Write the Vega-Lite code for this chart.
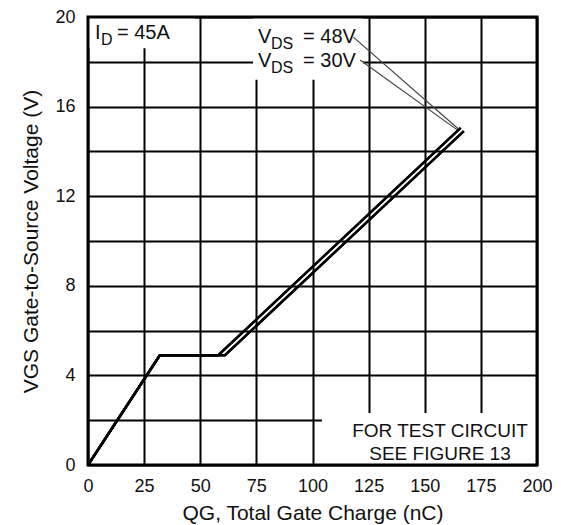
{
  "$schema": "https://vega.github.io/schema/vega-lite/v6.json",
  "width": 449,
  "height": 448,
  "autosize": "none",
  "padding": {"left": 88, "top": 17, "right": 24, "bottom": 60},
  "background": "white",
  "config": {
    "view": {"stroke": null},
    "font": "Liberation Sans",
    "axis": {
      "grid": true,
      "gridColor": "#000",
      "gridOpacity": 1,
      "gridWidth": 2,
      "ticks": false,
      "domain": false,
      "labelFont": "Liberation Sans",
      "labelFontSize": 18,
      "labelColor": "#111",
      "titleFont": "Liberation Sans",
      "titleFontSize": 21,
      "titleFontWeight": "normal",
      "titleColor": "#111"
    }
  },
  "datasets": {
    "curves": [
      {"series": "30V", "i": 0, "q": 0, "v": 0},
      {"series": "30V", "i": 1, "q": 32, "v": 4.9},
      {"series": "30V", "i": 2, "q": 58, "v": 4.9},
      {"series": "30V", "i": 3, "q": 166, "v": 15.05},
      {"series": "48V", "i": 0, "q": 0, "v": 0},
      {"series": "48V", "i": 1, "q": 32, "v": 4.9},
      {"series": "48V", "i": 2, "q": 61, "v": 4.9},
      {"series": "48V", "i": 3, "q": 167.4, "v": 14.9}
    ],
    "boxes": [
      {"name": "id", "q": 0, "q2": 47.5, "v": 18.6, "v2": 20},
      {"name": "vds", "q": 73.5, "q2": 122.5, "v": 17.2, "v2": 20},
      {"name": "test", "q": 104.2, "q2": 200, "v": 0, "v2": 2.32}
    ],
    "frame": [{"q": 0, "q2": 200, "v": 0, "v2": 20}],
    "leaders": [
      {"series": "48V", "q": 118.2, "v": 19.1, "q2": 165.0, "v2": 15.0},
      {"series": "30V", "q": 121.2, "v": 18.08, "q2": 164.6, "v2": 14.95}
    ],
    "labels": [
      {"role": "main", "t": "I", "q": 3.1, "v": 19.02},
      {"role": "sub", "t": "D", "q": 5.8, "v": 19.02},
      {"role": "main", "t": "= 45A", "q": 12.9, "v": 19.02},
      {"role": "main", "t": "V", "q": 75.7, "v": 18.84},
      {"role": "sub", "t": "DS", "q": 81.5, "v": 18.84},
      {"role": "main", "t": "= 48V", "q": 95.8, "v": 18.84},
      {"role": "main", "t": "V", "q": 75.7, "v": 17.77},
      {"role": "sub", "t": "DS", "q": 81.5, "v": 17.77},
      {"role": "main", "t": "= 30V", "q": 95.8, "v": 17.77}
    ],
    "notes": [
      {"t": "FOR TEST CIRCUIT", "q": 156.8, "v": 1.26},
      {"t": "SEE FIGURE 13", "q": 156.8, "v": 0.22}
    ]
  },
  "layer": [
    {
      "data": {"name": "curves"},
      "mark": {"type": "line", "color": "#000", "strokeWidth": 2.4},
      "encoding": {
        "x": {
          "field": "q", "type": "quantitative",
          "scale": {"domain": [0, 200], "nice": false},
          "axis": {
            "values": [0, 12.5, 25, 37.5, 50, 62.5, 75, 87.5, 100, 112.5, 125, 137.5, 150, 162.5, 175, 187.5, 200],
            "labelExpr": "datum.value % 25 == 0 ? datum.label : ''",
            "labelPadding": 12,
            "labelFlush": false,
            "labelOverlap": false,
            "title": "QG, Total Gate Charge (nC)",
            "titlePadding": 7
          }
        },
        "y": {
          "field": "v", "type": "quantitative",
          "scale": {"domain": [0, 20], "nice": false},
          "axis": {
            "values": [0, 2, 4, 6, 8, 10, 12, 14, 16, 18, 20],
            "labelExpr": "datum.value % 4 == 0 ? datum.label : ''",
            "labelPadding": 13,
            "labelFlush": false,
            "labelOverlap": false,
            "title": "VGS Gate-to-Source Voltage (V)",
            "titlePadding": 13
          }
        },
        "detail": {"field": "series"},
        "order": {"field": "i"}
      }
    },
    {
      "data": {"name": "boxes"},
      "mark": {"type": "rect", "fill": "white", "stroke": null},
      "encoding": {
        "x": {"field": "q", "type": "quantitative"},
        "x2": {"field": "q2"},
        "y": {"field": "v", "type": "quantitative"},
        "y2": {"field": "v2"}
      }
    },
    {
      "data": {"name": "curves"},
      "mark": {"type": "line", "color": "#000", "strokeWidth": 2.4},
      "encoding": {
        "x": {"field": "q", "type": "quantitative"},
        "y": {"field": "v", "type": "quantitative"},
        "detail": {"field": "series"},
        "order": {"field": "i"}
      }
    },
    {
      "data": {"name": "leaders"},
      "mark": {"type": "rule", "color": "#444", "strokeWidth": 1.2},
      "encoding": {
        "x": {"field": "q", "type": "quantitative"},
        "y": {"field": "v", "type": "quantitative"},
        "x2": {"field": "q2"},
        "y2": {"field": "v2"}
      }
    },
    {
      "data": {"name": "labels"},
      "transform": [{"filter": "datum.role == 'main'"}],
      "mark": {"type": "text", "align": "left", "baseline": "alphabetic", "fontSize": 20, "color": "#111"},
      "encoding": {
        "x": {"field": "q", "type": "quantitative"},
        "y": {"field": "v", "type": "quantitative"},
        "text": {"field": "t"}
      }
    },
    {
      "data": {"name": "labels"},
      "transform": [{"filter": "datum.role == 'sub'"}],
      "mark": {"type": "text", "align": "left", "baseline": "alphabetic", "fontSize": 16, "dy": 6, "color": "#111"},
      "encoding": {
        "x": {"field": "q", "type": "quantitative"},
        "y": {"field": "v", "type": "quantitative"},
        "text": {"field": "t"}
      }
    },
    {
      "data": {"name": "notes"},
      "mark": {"type": "text", "align": "center", "baseline": "alphabetic", "fontSize": 19, "color": "#111"},
      "encoding": {
        "x": {"field": "q", "type": "quantitative"},
        "y": {"field": "v", "type": "quantitative"},
        "text": {"field": "t"}
      }
    },
    {
      "data": {"name": "frame"},
      "mark": {"type": "rect", "fill": null, "stroke": "#000", "strokeWidth": 3},
      "encoding": {
        "x": {"field": "q", "type": "quantitative"},
        "x2": {"field": "q2"},
        "y": {"field": "v", "type": "quantitative"},
        "y2": {"field": "v2"}
      }
    }
  ]
}
